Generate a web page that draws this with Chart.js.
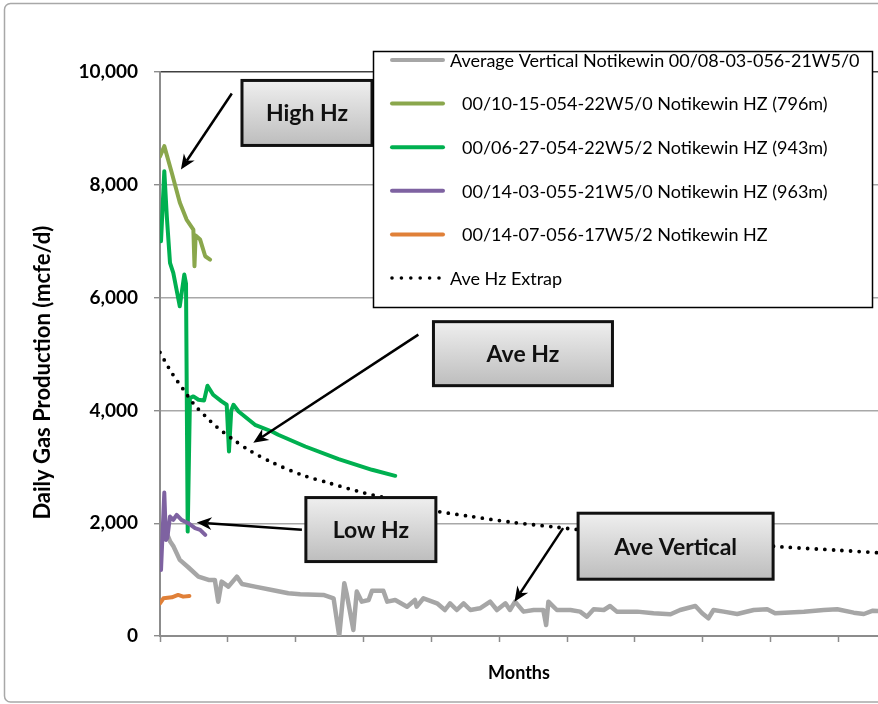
<!DOCTYPE html>
<html>
<head>
<meta charset="utf-8">
<script src="https://cdn.jsdelivr.net/npm/chart.js@4.4.1/dist/chart.umd.min.js"></script>
<style>
  html, body { margin: 0; padding: 0; background: #fff; overflow: hidden; }
  #wrap { position: relative; width: 878px; height: 704px; }
</style>
</head>
<body>
<div id="wrap"><canvas id="gasChart"></canvas></div>
<script>
// --- data (x = months on production, y = mcfe/d) ---
const vertMonths = [0.7, 1.2, 1.8, 2.4, 3.5, 5.0, 6.8, 8.6, 9.7, 10.3, 10.9, 12.1, 13.6, 14.5, 16.8, 19.8, 22.7, 24.8, 28.9, 30.7,
  31.7, 32.6, 33.0, 34.2, 34.8, 35.7, 36.9, 37.5, 39.5, 40.2, 41.6, 43.7, 45.1, 45.4, 46.6, 49.0, 50.4, 51.3, 52.5, 53.7,
  54.9, 56.6, 58.4, 59.6, 61.1, 61.9, 62.8, 64.3, 66.1, 67.8, 68.3, 68.7, 70.2, 72.6, 74.3, 75.5, 76.7, 78.5, 79.6, 80.8,
  84.4, 87.3, 90.3, 92.0, 94.7, 95.9, 97.0, 97.9, 99.7, 102.1, 105.0, 107.4, 108.8, 113.9, 117.4, 119.8, 122.7, 124.5, 126.1, 128];
const vertRates = [1950, 1820, 1674, 1585, 1349, 1219, 1053, 994, 994, 609, 964, 875, 1053, 923, 875, 817, 758, 740, 728, 669,
  0, 935, 758, 107, 787, 609, 639, 804, 804, 609, 639, 520, 639, 520, 669, 580, 461, 580, 461, 580,
  461, 491, 609, 461, 580, 461, 609, 432, 461, 461, 195, 609, 461, 461, 432, 343, 474, 461, 532, 432,
  432, 403, 385, 461, 532, 403, 314, 461, 432, 390, 461, 474, 403, 432, 461, 474, 414, 390, 449, 440];

const hz796Months = [0, 0.76, 2.07, 3.5, 4.7, 5.9, 6.1, 6.3, 7.1, 8.0, 8.85];
const hz796Rates = [8502, 8685, 8218, 7686, 7384, 7206, 6555, 7100, 7029, 6733, 6674];

const hz943Months = [0.18, 0.76, 1.2, 1.77, 2.35, 3.5, 4.3, 4.6, 4.9, 5.3, 5.9, 6.8, 7.8, 8.4, 9.4, 10.9, 11.8, 12.2, 12.6,
  13.0, 13.9, 16.8, 19.8, 20.9, 25.7, 31.6, 37.5, 41.6];
const hz943Rates = [7000, 8242, 7443, 6615, 6438, 5845, 6408, 6250, 1851, 4219, 4248, 4189, 4177, 4437, 4278, 4159, 4100, 3271, 4000,
  4100, 3981, 3745, 3626, 3568, 3360, 3136, 2947, 2840];

const hz963Months = [0.18, 0.76, 1.06, 1.3, 1.77, 2.35, 2.95, 3.8, 5.0, 6.2, 7.1, 8.0];
const hz963Rates = [1171, 2544, 1704, 1740, 2118, 2059, 2148, 2059, 2000, 1912, 1882, 1793];

const hz1407Months = [0, 0.6, 2.1, 3.2, 4.1, 5.2];
const hz1407Rates = [580, 669, 687, 728, 698, 710];

const extrapMonths = [0, 1, 2, 3, 4, 6, 8, 10, 13, 16, 20, 25, 30, 36, 42, 48, 55, 62, 70, 80, 90, 100, 110, 120, 128];
const extrapRates = [5030, 4850, 4680, 4530, 4390, 4110, 3900, 3710, 3480, 3280, 3070, 2860, 2710, 2540, 2400, 2230, 2120,
  2020, 1930, 1820, 1730, 1660, 1580, 1520, 1470];

const seriesNames = [
  'Average Vertical Notikewin 00/08-03-056-21W5/0',
  '00/10-15-054-22W5/0 Notikewin HZ (796m)',
  '00/06-27-054-22W5/2 Notikewin HZ (943m)',
  '00/14-03-055-21W5/0 Notikewin HZ (963m)',
  '00/14-07-056-17W5/2 Notikewin HZ',
  'Ave Hz Extrap'
];
const yTicks = [0, 2000, 4000, 6000, 8000, 10000];

// callouts: box centre, arrow tail and arrow tip, all in data units
const callouts = [
  { text: 'High Hz', box: [26.0, 9274], w: 130, h: 65, tail: [12.7, 9620], tip: [3.7, 8272] },
  { text: 'Ave Hz', box: [64.2, 5006], w: 179, h: 64, tail: [45.7, 5343], tip: [16.5, 3426] },
  { text: 'Low Hz', box: [37.3, 1887], w: 130, h: 64, tail: [25.1, 1882], tip: [6.5, 2011] },
  { text: 'Ave Vertical', box: [91.2, 1592], w: 195, h: 66, tail: [71.3, 1912], tip: [62.7, 609] }
];

const pts = (xs, ys) => xs.map((m, i) => ({ x: m, y: ys[i] }));

function line(label, xs, ys, color, width, order, indent) {
  return {
    label, data: pts(xs, ys), borderColor: color, backgroundColor: color,
    borderWidth: width, pointRadius: 0, tension: 0, borderJoinStyle: 'round', borderCapStyle: 'round',
    order, legendIndent: indent
  };
}

function drawArrow(ctx, x1, y1, x2, y2) {
  const a = Math.atan2(y2 - y1, x2 - x1);
  const hl = 15, hw = 6.5;
  const bx = x2 - hl * Math.cos(a), by = y2 - hl * Math.sin(a);
  const nx = x2 - hl * 0.7 * Math.cos(a), ny = y2 - hl * 0.7 * Math.sin(a);
  ctx.strokeStyle = '#000';
  ctx.lineWidth = 2.5;
  ctx.beginPath();
  ctx.moveTo(x1, y1);
  ctx.lineTo(nx, ny);
  ctx.stroke();
  ctx.fillStyle = '#000';
  ctx.beginPath();
  ctx.moveTo(x2, y2);
  ctx.lineTo(bx + hw * Math.sin(a), by - hw * Math.cos(a));
  ctx.lineTo(nx, ny);
  ctx.lineTo(bx - hw * Math.sin(a), by + hw * Math.cos(a));
  ctx.closePath();
  ctx.fill();
}

const decorations = {
  id: 'decorations',
  beforeDraw(chart) {
    const ctx = chart.ctx;
    ctx.save();
    ctx.strokeStyle = '#a8a8a8';
    ctx.lineWidth = 1.5;
    ctx.beginPath();
    ctx.roundRect(4.5, 3.5, 920, 698.5, 6);
    ctx.stroke();
    ctx.restore();
  },
  afterDraw(chart) {
    const { ctx, scales: { x, y } } = chart;
    ctx.save();

    // callout boxes with arrows
    callouts.forEach(c => {
      drawArrow(ctx, x.getPixelForValue(c.tail[0]), y.getPixelForValue(c.tail[1]),
        x.getPixelForValue(c.tip[0]), y.getPixelForValue(c.tip[1]));
      const cx = x.getPixelForValue(c.box[0]), cy = y.getPixelForValue(c.box[1]);
      const l = cx - c.w / 2, t = cy - c.h / 2;
      const g = ctx.createLinearGradient(0, t, 0, t + c.h);
      g.addColorStop(0, '#efefef');
      g.addColorStop(1, '#bdbdbd');
      ctx.fillStyle = g;
      ctx.fillRect(l, t, c.w, c.h);
      ctx.lineWidth = 3;
      ctx.strokeStyle = '#111';
      ctx.strokeRect(l, t, c.w, c.h);
      ctx.fillStyle = '#111';
      ctx.font = 'bold 23px Lato';
      ctx.textAlign = 'center';
      ctx.textBaseline = 'middle';
      ctx.fillText(c.text, cx, cy + 1);
    });

    // legend box
    const lx = 373.5, ly = 51.5, lw = 499, lh = 256;
    ctx.fillStyle = '#fff';
    ctx.fillRect(lx, ly, lw, lh);
    ctx.strokeStyle = '#000';
    ctx.lineWidth = 1.5;
    ctx.strokeRect(lx, ly, lw, lh);
    ctx.font = '18px Lato';
    ctx.textAlign = 'left';
    ctx.textBaseline = 'middle';
    chart.data.datasets.forEach((ds, i) => {
      const ry = 60 + i * 43.6;
      if (ds.borderDash && ds.borderDash.length) {
        ctx.fillStyle = ds.borderColor;
        for (let k = 0; k < 6; k++) {
          ctx.beginPath();
          ctx.arc(392 + k * 9.4, ry, 1.8, 0, Math.PI * 2);
          ctx.fill();
        }
      } else {
        ctx.strokeStyle = ds.borderColor;
        ctx.lineWidth = 4;
        ctx.lineCap = 'round';
        ctx.beginPath();
        ctx.moveTo(392, ry);
        ctx.lineTo(443, ry);
        ctx.stroke();
      }
      ctx.fillStyle = '#000';
      ctx.fillText(ds.label, 450 + (ds.legendIndent || 0), ry + 1);
    });
    ctx.restore();
  }
};

const ctx = document.getElementById('gasChart').getContext('2d');
new Chart(ctx, {
  type: 'line',
  data: {
    datasets: [
      line(seriesNames[0], vertMonths, vertRates, '#a6a6a6', 4.5, 6, 0),
      line(seriesNames[1], hz796Months, hz796Rates, '#8aa74c', 4, 5, 12),
      line(seriesNames[2], hz943Months, hz943Rates, '#00b050', 4, 4, 12),
      line(seriesNames[3], hz963Months, hz963Rates, '#7e62a1', 4, 3, 12),
      line(seriesNames[4], hz1407Months, hz1407Rates, '#e08038', 4, 2, 12),
      {
        label: seriesNames[5], data: pts(extrapMonths, extrapRates), borderColor: '#000', backgroundColor: '#000',
        borderWidth: 3.8, borderDash: [0, 8.6], borderCapStyle: 'round', pointRadius: 0, tension: 0.3, order: 1
      }
    ]
  },
  options: {
    responsive: true,
    maintainAspectRatio: false,
    animation: false,
    devicePixelRatio: 1,
    layout: { padding: { top: 72, left: 0, right: 0, bottom: 0 } },
    plugins: { legend: { display: false }, tooltip: { enabled: false } },
    scales: {
      x: {
        type: 'linear', min: 0, max: 127,
        afterFit: s => { s.height = 68; },
        ticks: { display: false, stepSize: 12, includeBounds: false },
        grid: { drawOnChartArea: false, drawTicks: true, tickLength: 6, tickColor: '#8c8c8c', tickWidth: 1.5 },
        border: { color: '#8c8c8c', width: 2 },
        title: { display: true, text: 'Months', color: '#000', font: { family: 'Lato', size: 18, weight: 'bold' }, padding: { top: 0, bottom: 20 } }
      },
      y: {
        min: 0, max: 10000,
        afterFit: s => { s.width = 160; },
        afterBuildTicks: s => { s.ticks = yTicks.map(v => ({ value: v })); },
        ticks: {
          padding: 16, color: '#000', font: { family: 'Lato', size: 19, weight: 'bold' },
          callback: v => v.toLocaleString('en-US')
        },
        grid: {
          color: c => (c.tick && c.tick.value === 10000 ? '#404040' : '#a8a8a8'),
          lineWidth: 1.4, tickLength: 6, tickColor: '#8c8c8c'
        },
        border: { color: '#8c8c8c', width: 2 },
        title: {
          display: true, text: 'Daily Gas Production (mcfe/d)       ', color: '#000',
          font: { family: 'Lato', size: 22, weight: 'bold' }, padding: { top: 30, bottom: 0 }
        }
      }
    }
  },
  plugins: [decorations]
});
</script>
</body>
</html>
